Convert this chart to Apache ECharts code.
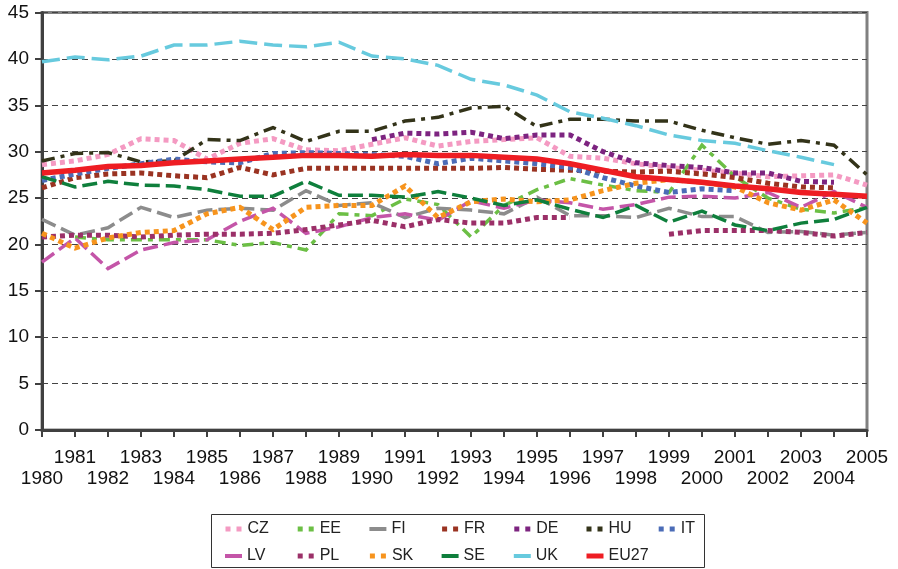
<!DOCTYPE html>
<html>
<head>
<meta charset="utf-8">
<script src="https://cdn.jsdelivr.net/npm/echarts@6/dist/echarts.min.js"></script>
<style>
  html, body { margin: 0; padding: 0; background: #fff; }
  #chart { width: 898px; height: 569px; }
</style>
</head>
<body>
<div id="chart"></div>
<script>
// years on the x axis
const years = [];
for (let y = 1980; y <= 2005; y++) years.push(String(y));

// series values (null = no data)
const cz = [28.6, 29.0, 29.7, 31.4, 31.2, 29.2, 30.9, 31.4, 30.2, 30.1, 30.8, 31.5, 30.6, 31.1, 31.3, 31.5, 29.5, 29.3, 28.7, 28.3, 28.0, 27.7, 27.3, 27.4, 27.5, 26.4];
const ee = [null, 20.8, 20.5, 20.5, 20.5, 20.5, 19.9, 20.2, 19.4, 23.3, 23.1, 24.9, 24.3, 20.8, 24.2, 25.9, 27.1, 26.4, 25.8, 25.6, 30.7, 27.3, 25.0, 23.8, 23.4, 24.0];
const fi = [22.7, 21.0, 21.8, 24.0, 22.9, 23.7, 23.9, 23.7, 25.8, 24.2, 24.5, 22.9, 23.9, 23.7, 23.3, 25.1, 23.1, 23.1, 22.9, 23.9, 23.0, 23.0, 21.3, 21.4, 21.0, 21.3];
const fr = [26.1, 27.2, 27.6, 27.7, 27.4, 27.2, 28.3, 27.5, 28.2, 28.2, 28.2, 28.2, 28.2, 28.2, 28.3, 28.1, 28.0, 27.9, 27.8, 27.9, 27.6, 27.2, 26.6, 26.2, 26.1, null];
const de = [null, null, null, null, null, null, null, null, null, null, 31.3, 32.0, 31.9, 32.1, 31.4, 31.8, 31.8, 30.0, 28.8, 28.5, 28.3, 27.7, 27.7, 26.8, 26.7, null];
const hu = [29.0, 29.8, 29.9, 28.9, 29.0, 31.3, 31.2, 32.6, 31.1, 32.2, 32.2, 33.3, 33.7, 34.7, 34.9, 32.7, 33.5, 33.5, 33.3, 33.3, 32.3, 31.5, 30.8, 31.2, 30.7, 27.5];
const it = [26.9, 27.6, 28.2, 28.7, 29.2, 28.9, 28.8, 29.8, 29.9, 29.8, 29.7, 29.5, 28.7, 29.3, 29.0, 28.7, 28.3, 27.2, 26.3, 25.6, 26.0, 25.8, null, null, null, null];
const lv = [18.1, 20.7, 17.4, 19.4, 20.2, 20.5, 22.5, 23.9, 21.2, 21.9, 22.9, 23.3, 22.6, 24.7, 23.9, 24.8, 24.5, 23.8, 24.3, 25.1, 25.2, 25.0, 25.6, 24.0, 25.7, 24.0];
const pl = [20.8, 21.0, 21.0, 20.8, 21.0, 21.1, 21.1, 21.2, 21.6, 22.1, 22.6, 21.9, 22.7, 22.3, 22.3, 22.9, 22.9, null, null, 21.1, 21.5, 21.5, 21.5, 21.3, 20.9, 21.3];
const sk = [21.2, 19.6, 20.7, 21.3, 21.5, 23.3, 24.0, 21.6, 24.0, 24.2, 24.2, 26.3, 22.9, 24.6, 24.9, 24.6, 24.8, 25.8, 26.6, 27.0, 26.7, 26.2, 24.5, 23.7, 24.8, 22.3];
const se = [27.3, 26.2, 26.8, 26.4, 26.3, 25.9, 25.2, 25.2, 26.8, 25.3, 25.3, 25.1, 25.7, 25.0, 24.2, 24.8, 23.8, 22.9, 24.2, 22.4, 23.6, 22.1, 21.5, 22.3, 22.7, 24.0];
const uk = [39.7, 40.2, 39.9, 40.3, 41.5, 41.5, 41.9, 41.5, 41.3, 41.8, 40.3, 40.0, 39.3, 37.8, 37.2, 36.1, 34.3, 33.6, 32.8, 31.8, 31.2, 30.9, 30.1, 29.4, 28.6, null];
const eu27 = [27.7, 28.0, 28.4, 28.5, 28.8, 29.0, 29.2, 29.4, 29.6, 29.6, 29.5, 29.7, 29.6, 29.6, 29.4, 29.2, 28.7, 28.0, 27.3, 27.0, 26.7, 26.3, 26.0, 25.6, 25.4, 25.2];

const names = ["CZ", "EE", "FI", "FR", "DE", "HU", "IT", "LV", "PL", "SK", "SE", "UK", "EU27"];
const values = [cz, ee, fi, fr, de, hu, it, lv, pl, sk, se, uk, eu27];

// line looks
const dots = [5, 4];
const styles = {
	CZ: { color: "#F49AC2", width: 5, type: dots },
	EE: { color: "#6CBF45", width: 3.5, type: [11, 6, 5, 6] },
	FI: { color: "#8C8C8C", width: 3.5, type: [15, 6] },
	FR: { color: "#9A3322", width: 5, type: dots },
	DE: { color: "#7D2480", width: 5, type: dots },
	HU: { color: "#333319", width: 3.5, type: [13, 6, 4, 6] },
	IT: { color: "#4B6CB7", width: 5, type: dots },
	LV: { color: "#C455A8", width: 3.5, type: [15, 6] },
	PL: { color: "#9B3068", width: 5, type: dots },
	SK: { color: "#F7941D", width: 5, type: dots },
	SE: { color: "#0F7F3C", width: 3.5, type: [15, 6] },
	UK: { color: "#67CADE", width: 3.5, type: [18, 7] },
	EU27: { color: "#EE1D23", width: 5.5, type: "solid" },
};
// legend swatch dash, as drawn in the reference key
const keyDash = {
	CZ: [5, 6], EE: [5, 6], FI: "solid", FR: [5, 6], DE: [5, 6], HU: [5, 6], IT: [5, 6],
	LV: "solid", PL: [5, 6], SK: [5, 6], SE: "solid", UK: "solid", EU27: "solid",
};

const font = "'Liberation Sans', Arial, sans-serif";
const chart = echarts.init(document.getElementById("chart"), null, { renderer: "canvas" });

const series = names.map((name, i) => ({
	name: name,
	type: "line",
	data: values[i],
	showSymbol: false,
	symbol: "none",
	connectNulls: false,
	animation: false,
	z: i === names.length - 1 ? 3 : 2,
	lineStyle: {
		color: styles[name].color,
		width: styles[name].width,
		type: styles[name].type,
		cap: "butt",
		join: "miter",
	},
	itemStyle: { color: styles[name].color },
}));

// one small legend per entry so the columns line up like the reference
const legends = names.map((name, i) => {
	const col = i < 7 ? i : i - 7;
	const row = i < 7 ? 0 : 1;
	return {
		data: [name],
		left: 223 + col * 72.2,
		top: row === 0 ? 521 : 548,
		padding: 0,
		itemWidth: 17,
		itemHeight: 8,
		selectedMode: false,
		itemStyle: { opacity: 0, color: "transparent", borderWidth: 0 },
		lineStyle: {
			width: name === "FI" || name === "LV" || name === "SE" || name === "UK" ? 4 : 5,
			type: keyDash[name],
			cap: "butt",
		},
		textStyle: { fontSize: 16, color: "#222", fontFamily: font },
	};
});

const option = {
	animation: false,
	backgroundColor: "#fff",
	grid: {
		left: 42,
		right: 31,
		top: 12.5,
		bottom: 139,
		show: true,
		borderColor: "#808080",
		borderWidth: 3,
		backgroundColor: "transparent",
	},
	legend: legends,
	graphic: [
		{
			type: "rect",
			shape: { x: 211.5, y: 514.5, width: 493, height: 53 },
			style: { fill: "none", stroke: "#333", lineWidth: 1 },
			silent: true,
		},
	],
	xAxis: {
		type: "category",
		data: years,
		boundaryGap: false,
		axisLine: { lineStyle: { color: "#404040", width: 3 } },
		axisTick: { alignWithLabel: true, interval: 0, length: 7, lineStyle: { color: "#404040", width: 2 } },
		axisLabel: {
			interval: 0,
			margin: 17,
			fontSize: 19,
			lineHeight: 21,
			color: "#111",
			fontFamily: font,
			formatter: (v) => (Number(v) % 2 === 0 ? "\n" + v : v),
		},
		splitLine: { show: false },
	},
	yAxis: {
		type: "value",
		min: 0,
		max: 45,
		interval: 5,
		axisLine: { show: true, lineStyle: { color: "#404040", width: 3 } },
		axisTick: { show: true, length: 7, lineStyle: { color: "#404040", width: 2 } },
		axisLabel: { margin: 13, fontSize: 19, color: "#111", fontFamily: font },
		splitLine: { lineStyle: { color: "#444", width: 1, type: [6, 4] } },
	},
	series: series,
};

chart.setOption(option);
</script>
</body>
</html>
